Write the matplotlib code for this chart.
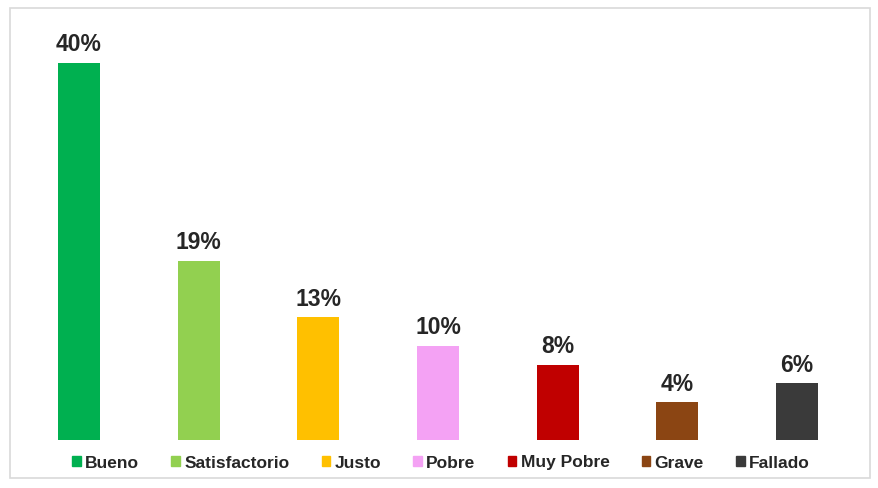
import matplotlib.pyplot as plt
import matplotlib.patches as patches

categories = ['Bueno', 'Satisfactorio', 'Justo', 'Pobre', 'Muy Pobre', 'Grave', 'Fallado']
values = [40, 19, 13, 10, 8, 4, 6]
colors = ['#00B050', '#92D050', '#FFC000', '#F4A2F4', '#C00000', '#8B4513', '#3A3A3A']

plt.rcParams['font.family'] = ['Liberation Sans', 'DejaVu Sans']

W, H = 879, 488
fig = plt.figure(figsize=(W / 100, H / 100), dpi=100)

# light grey border round the chart
fig.patches.append(patches.Rectangle((10 / W, 1 - 478 / H), 860 / W, 470 / H,
                                     transform=fig.transFigure, fill=False,
                                     edgecolor='#D9D9D9', linewidth=1.2))

ax = fig.add_axes([19 / W, 1 - 440 / H, 838 / W, 420 / H])
x = range(len(categories))
bars = ax.bar(x, values, width=0.35, color=colors, label=categories)

for b, v in zip(bars, values):
    ax.text(b.get_x() + b.get_width() / 2, v + 0.7, f'{v}%',
            ha='center', va='bottom', fontsize=16.5, fontweight='bold',
            color='#262626')

ax.set_xlim(-0.5, len(categories) - 0.5)
ax.set_ylim(0, 40 * 420 / 377)
ax.axis('off')

handles = [patches.Patch(color=c) for c in colors]
fig.legend(handles, categories, loc='center', bbox_to_anchor=(441 / W, 1 - 463 / H),
           ncol=7, frameon=False, handlelength=0.5, handleheight=0.5,
           handletextpad=0.25, columnspacing=1.85, labelcolor='#262626',
           prop={'size': 12.5, 'weight': 'bold'})

fig.savefig('out.png', dpi=100)
